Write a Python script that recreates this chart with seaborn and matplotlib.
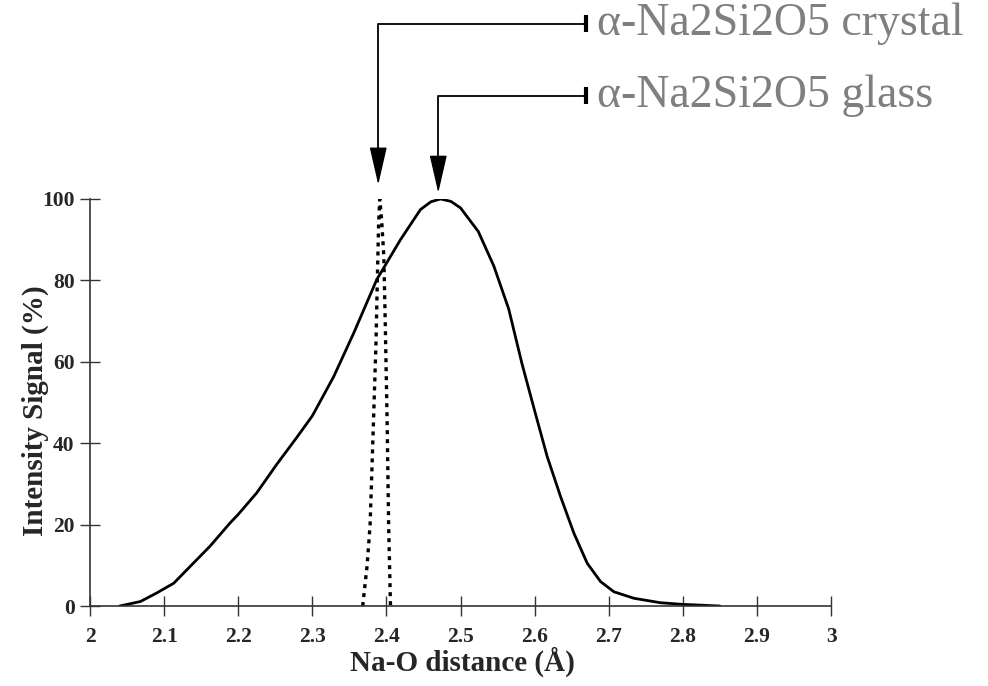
import matplotlib
matplotlib.use("Agg")
import matplotlib.pyplot as plt
import seaborn as sns
import pandas as pd

# ---- data ----
glass_x = [2.04, 2.068, 2.09, 2.113, 2.135, 2.162, 2.189, 2.20, 2.225, 2.252,
           2.279, 2.30, 2.329, 2.356, 2.387, 2.419, 2.446, 2.46, 2.473, 2.487,
           2.50, 2.524, 2.545, 2.565, 2.583, 2.60, 2.617, 2.635, 2.653, 2.671,
           2.689, 2.707, 2.734, 2.77, 2.80, 2.85]
glass_y = [0, 1.1, 3.2, 5.6, 9.7, 14.7, 20.4, 22.5, 27.8, 34.8,
           41.4, 46.7, 56.4, 67.1, 80.2, 90, 97.4, 99.3, 100, 99.4,
           97.8, 92, 83.5, 73, 59.5, 48, 36.7, 26.9, 17.9, 10.5,
           6.0, 3.5, 1.9, 0.8, 0.4, 0]

crys_x = [2.368, 2.374, 2.378, 2.3825, 2.386, 2.3875, 2.3895, 2.391,
          2.3935, 2.3965, 2.3985, 2.401, 2.403, 2.4055]
crys_y = [0, 10, 20, 45, 65, 78, 94, 100, 95, 86, 69, 45, 20, 0]

x_ticks = [2, 2.1, 2.2, 2.3, 2.4, 2.5, 2.6, 2.7, 2.8, 2.9, 3]
x_tick_labels = ["2", "2.1", "2.2", "2.3", "2.4", "2.5", "2.6", "2.7", "2.8", "2.9", "3"]
y_ticks = [0, 20, 40, 60, 80, 100]
labels = ["α-Na2Si2O5 crystal", "α-Na2Si2O5 glass"]

glass = pd.DataFrame({"x": glass_x, "y": glass_y})
crys = pd.DataFrame({"x": crys_x, "y": crys_y})

sns.set_style("white")
plt.rcParams["font.family"] = ["Liberation Serif", "DejaVu Serif"]

fig = plt.figure(figsize=(9.88, 6.86), dpi=100)
ax = fig.add_axes([0.0911, 0.1166, 0.7500, 0.5934])

sns.lineplot(data=glass, x="x", y="y", ax=ax, color="black", lw=2.0, sort=False,
             solid_joinstyle="round")
sns.lineplot(data=crys, x="x", y="y", ax=ax, color="black", lw=2.4,
             linestyle=(0, (1.2, 1.5)), sort=False)

ax.set_xlim(2, 3)
ax.set_ylim(0, 100)
ax.set_xticks(x_ticks)
ax.set_xticklabels(x_tick_labels)
ax.set_yticks(y_ticks)
for lab in ax.get_xticklabels() + ax.get_yticklabels():
    lab.set_fontweight("bold")
    lab.set_fontsize(15.5)
ax.tick_params(axis="both", direction="inout", length=14, width=1.0,
               color="#333333", bottom=True, left=True)
ax.tick_params(axis="x", pad=8)
ax.tick_params(axis="y", pad=4)
for s in ["top", "right"]:
    ax.spines[s].set_visible(False)
for s in ["left", "bottom"]:
    ax.spines[s].set_color("#333333")
    ax.spines[s].set_linewidth(1.2)

ax.set_xlabel("Na-O distance (Å)", fontsize=21, fontweight="bold")
ax.set_ylabel("Intensity Signal (%)", fontsize=21, fontweight="bold")
ax.yaxis.set_label_coords(-0.055, 0.48)
ax.xaxis.set_label_coords(0.503, -0.1)

# ---- arrows + labels (positions in data units) ----
arrows = [
    # corner_x, line_y, head_start_y, tip_y, label
    (2.389, 143.0, 112.0, 103.5, labels[0]),
    (2.470, 125.3, 108.8, 101.5, labels[1]),
]
bar_x = 2.669
for cx, ly, hy, ty, lab in arrows:
    ax.plot([bar_x, cx, cx], [ly, ly, hy], color="black", lw=1.3,
            clip_on=False, solid_capstyle="butt")
    ax.plot([bar_x, bar_x], [ly - 2.1, ly + 2.1], color="black", lw=3.0,
            clip_on=False, solid_capstyle="butt")
    ax.annotate("", xy=(cx, ty), xytext=(cx, hy + 0.5), annotation_clip=False,
                arrowprops=dict(arrowstyle="-|>,head_length=2.4,head_width=0.55",
                                mutation_scale=10, color="black", lw=1.0,
                                shrinkA=0, shrinkB=0))
    ax.text(bar_x + 0.015, ly, lab, fontsize=33, color="#7f7f7f",
            va="center", ha="left", clip_on=False)

fig.savefig("out.png", dpi=100)
